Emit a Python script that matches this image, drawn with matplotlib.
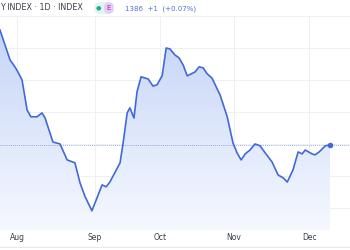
import numpy as np
import matplotlib.pyplot as plt
from matplotlib.patches import FancyBboxPatch
from matplotlib.colors import LinearSegmentedColormap

# bar index (trading days from the left edge) and index level
bars = [0, 2.95, 4.4, 5.3, 6.5, 8.0, 9.1, 10.9, 12.4, 13.3, 15.6, 17.7, 19.8, 22.1,
        23.6, 25.1, 27.1, 30.1, 31.3, 32.4, 35.4, 36.3, 37.5, 38.3, 39.5, 40.4,
        41.6, 43.7, 45.1, 46.3, 47.8, 49.0, 50.1, 51.6, 52.8, 54.0, 55.2, 57.5,
        58.7, 59.9, 61.1, 62.5, 64.9, 67.0, 68.7, 69.9, 71.1, 72.3, 73.7, 75.2,
        76.7, 78.2, 80.2, 82.0, 83.5, 84.7, 86.4, 87.9, 89.1, 90.0, 92.0, 92.9,
        94.1, 95.9, 97.3]
values = [1421.9, 1412.6, 1410.4, 1408.8, 1406.3, 1396.9, 1394.8, 1394.8, 1396.0,
          1394.4, 1386.9, 1386.3, 1381.3, 1380.4, 1374.1, 1369.8, 1365.4, 1373.5,
          1372.9, 1374.4, 1380.4, 1386.6, 1396.0, 1397.6, 1394.4, 1402.6, 1407.3,
          1406.6, 1404.4, 1404.8, 1407.6, 1416.3, 1416.0, 1414.1, 1413.2, 1411.0,
          1407.6, 1408.8, 1410.4, 1410.1, 1408.2, 1406.9, 1401.6, 1394.8, 1386.6,
          1383.5, 1381.3, 1383.2, 1384.4, 1386.3, 1385.7, 1383.5, 1380.7, 1376.6,
          1375.7, 1374.4, 1378.2, 1383.8, 1383.2, 1384.4, 1383.2, 1382.9, 1383.8,
          1385.7, 1386.0]

month_pos = [5.0, 28.0, 47.2, 69.0, 91.2]
month_labels = ['Aug', 'Sep', 'Oct', 'Nov', 'Dec']
grid_levels = [1366.3, 1376.3, 1386.3, 1396.3, 1406.3, 1416.3, 1426.3]
last_value = 1386.0

header = 'Y INDEX · 1D · INDEX'
quote = '1386  +1  (+0.07%)'

line_col = '#4169d8'
text_col = '#3b3f4a'

fig = plt.figure(figsize=(3.5, 2.5), dpi=100)
ax = fig.add_axes([0, 0.08, 1, 0.856])
ymin, ymax = 1359.4, 1426.3
ax.set_xlim(0, 103.2)
ax.set_ylim(ymin, ymax)

# gradient fill under the line
poly = ax.fill_between(bars, values, ymin, color='none')
grad = np.linspace(0, 1, 256).reshape(-1, 1)
cmap = LinearSegmentedColormap.from_list('g', ['#f5f8fe', '#c3d3f7'])
img = ax.imshow(grad, cmap=cmap, aspect='auto', origin='lower',
                extent=[0, bars[-1], ymin, 1426.3], zorder=1)
img.set_clip_path(poly.get_paths()[0], transform=ax.transData)

ax.plot(bars, values, color=line_col, lw=1.2, zorder=3)
ax.plot(bars[-1], values[-1], 'o', color=line_col, ms=3, zorder=4)
ax.axhline(last_value, color=line_col, lw=0.6, ls=(0, (1, 1.5)), alpha=0.7, zorder=2)

for g in grid_levels:
    ax.axhline(g, color='#eef0f3', lw=0.7, zorder=0)
for m in month_pos:
    ax.axvline(m, color='#eef0f3', lw=0.7, zorder=0)

ax.set_xticks(month_pos)
ax.set_xticklabels(month_labels, fontsize=5.5, color=text_col)
ax.tick_params(axis='x', length=0, pad=2)
ax.set_yticks([])
for s in ax.spines.values():
    s.set_visible(False)

# header
fig.text(0.0, 0.968, header, fontsize=5.8, color=text_col, va='center', ha='left')
fig.patches.append(FancyBboxPatch((0.27, 0.944), 0.055, 0.048, boxstyle='round,pad=0,rounding_size=0.02',
                                  transform=fig.transFigure, fc='#e3f3ef', ec='none'))
fig.patches.append(FancyBboxPatch((0.297, 0.944), 0.028, 0.048, boxstyle='round,pad=0,rounding_size=0.02',
                                  transform=fig.transFigure, fc='#e7cdf3', ec='none'))
fig.text(0.281, 0.968, '●', fontsize=4.5, color='#22ab94', va='center', ha='center')
fig.text(0.311, 0.968, 'E', fontsize=5, color='#9c27b0', va='center', ha='center')
fig.text(0.358, 0.966, quote, fontsize=5, color='#4a74e0', va='center', ha='left')

fig.add_artist(plt.Line2D([0, 1], [0.014, 0.014], color='#e6e8eb', lw=0.8))

fig.savefig('out.png', dpi=100)
